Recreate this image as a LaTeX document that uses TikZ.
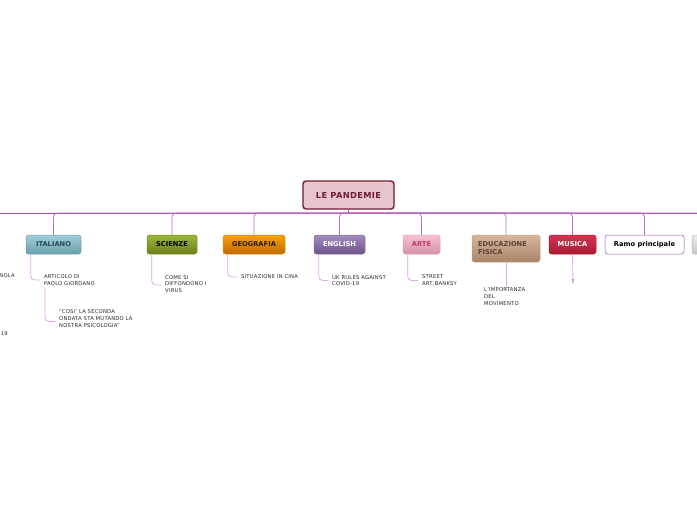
\documentclass[tikz,border=0pt]{standalone}
\usepackage{fontspec}
\setmainfont{DejaVu Sans}
\newfontfamily\widefont[LetterSpace=4]{DejaVu Sans}
\definecolor{barc}{HTML}{9C4BAE}
\definecolor{kidc}{HTML}{BE6CCB}
\definecolor{subc}{HTML}{E2A6EA}
\definecolor{rootfill}{HTML}{E6C5CB}
\definecolor{rootdraw}{HTML}{6E1E30}
\definecolor{itD}{HTML}{6F9AA6}\definecolor{itT}{HTML}{9FCFDB}\definecolor{itB}{HTML}{6C9DAA}\definecolor{itX}{HTML}{2B4B58}
\definecolor{scD}{HTML}{6E8A22}\definecolor{scT}{HTML}{9AB83A}\definecolor{scB}{HTML}{6A7F1E}
\definecolor{geD}{HTML}{D08A20}\definecolor{geT}{HTML}{F7A10A}\definecolor{geB}{HTML}{C06A00}\definecolor{geX}{HTML}{2A1A00}
\definecolor{enD}{HTML}{8470A0}\definecolor{enT}{HTML}{A48CC0}\definecolor{enB}{HTML}{6C548C}
\definecolor{arD}{HTML}{D89AAE}\definecolor{arT}{HTML}{F6C2D0}\definecolor{arB}{HTML}{D692A8}\definecolor{arX}{HTML}{C23A6E}
\definecolor{edD}{HTML}{C0A088}\definecolor{edT}{HTML}{D8B69C}\definecolor{edB}{HTML}{A88468}\definecolor{edX}{HTML}{5A4232}
\definecolor{muD}{HTML}{A81830}\definecolor{muT}{HTML}{D43450}\definecolor{muB}{HTML}{A81A32}
\definecolor{raD}{HTML}{A050B0}
\definecolor{grD}{HTML}{B8B8B8}\definecolor{grT}{HTML}{EEEEEE}\definecolor{grB}{HTML}{C4C4C4}
\begin{document}
\begin{tikzpicture}[x=1pt,y=-1pt,
  topic/.style={draw, rounded corners=2.5pt, line width=0.5pt, inner sep=0pt,
    minimum height=19pt, font=\fontsize{6.7}{8}\selectfont\bfseries, align=left},
  sub/.style={anchor=west, inner sep=0pt, align=left, font=\widefont\fontsize{5.25}{6.8}\selectfont, text=black!85},
  bar/.style={draw=barc, line width=0.8pt},
  kid/.style={draw=kidc, line width=0.8pt, rounded corners=4pt},
  subl/.style={draw=subc, line width=0.8pt, rounded corners=4pt}]
\useasboundingbox (0,0) rectangle (697,520);
\clip (0,0) rectangle (697,520);

% root
\node[draw=rootdraw, line width=1.4pt, fill=rootfill, rounded corners=3pt,
  minimum width=91pt, minimum height=28pt, inner sep=0pt, text=rootdraw,
  font=\widefont\fontsize{8.3}{9}\selectfont\bfseries] (root) at (348.5,195) {LE PANDEMIE};

% bar
\coordinate (barL) at (0,213);
\coordinate (barR) at (697,213);
\draw[bar] (barL) -- (barR);
\draw[bar] (root.south) -- (root.south |- barL);

% topics
\node[topic, draw=itD, top color=itT, bottom color=itB, text=itX, minimum width=55pt] (ital) at (53.5,244.5) {ITALIANO};
\node[topic, draw=scD, top color=scT, bottom color=scB, text=black, minimum width=50pt] (sci) at (172,244.5) {SCIENZE};
\node[topic, draw=geD, top color=geT, bottom color=geB, text=geX, minimum width=62pt] (geo) at (254,244.5) {GEOGRAFIA};
\node[topic, draw=enD, top color=enT, bottom color=enB, text=white, minimum width=51pt] (eng) at (339.5,244.5) {ENGLISH};
\node[topic, draw=arD, top color=arT, bottom color=arB, text=arX, minimum width=37pt] (arte) at (421.5,244.5) {ARTE};
\node[topic, draw=edD, top color=edT, bottom color=edB, text=edX, minimum width=68pt, minimum height=27pt, text width=56pt] (edu) at (506,248.5) {EDUCAZIONE\\FISICA};
\node[topic, draw=muD, top color=muT, bottom color=muB, text=white, minimum width=47pt] (mus) at (572.5,244.5) {MUSICA};
\node[topic, draw=raD, fill=white, text=black, minimum width=79pt] (ramo) at (644.5,244.5) {Ramo principale};
\node[topic, draw=grD, top color=grT, bottom color=grB, minimum width=40pt] (extra) at (712,244.5) {};

% topic connectors
\foreach \k in {ital,sci,geo,eng,arte,edu,mus,ramo}{
  \draw[kid] (\k.north) |- (root.south |- barL);
}
\draw[kid] (extra.north) |- (root.south |- barL);

% subtopics
\node[sub] (t1) at (44,280) {ARTICOLO DI\\PAOLO GIORDANO};
\node[sub] (t2) at (59,318.5) {“COSI’ LA SECONDA\\ONDATA STA MUTANDO LA\\NOSTRA PSICOLOGIA”};
\node[sub] (t3) at (165,284) {COME SI\\DIFFONDONO I\\VIRUS};
\node[sub] (t4) at (241,277) {SITUAZIONE IN CINA};
\node[sub] (t5) at (332,280.5) {UK RULES AGAINST\\COVID-19};
\node[sub] (t6) at (422,280.5) {STREET\\ART,BANKSY};
\node[sub] (t7) at (484,296.5) {L’IMPORTANZA\\DEL\\MOVIMENTO};
\node[sub, anchor=center] (t8) at (573,282) {?};
\node[sub, anchor=east] (t9) at (15,276) {NOLA};
\node[sub, anchor=east] (t10) at (8,334) {19};

\draw[subl] ([xshift=5pt]ital.south west) |- ([xshift=-4pt]t1.west);
\draw[subl] ([xshift=1pt,yshift=-2pt]t1.south west) |- ([xshift=-4pt,yshift=-3pt]t2.west);
\draw[subl] ([xshift=5pt]sci.south west) |- ([xshift=-4pt,yshift=-1pt]t3.west);
\draw[subl] ([xshift=5pt]geo.south west) |- ([xshift=-4pt]t4.west);
\draw[subl] ([xshift=5pt]eng.south west) |- ([xshift=-4pt]t5.west);
\draw[subl] ([xshift=5pt]arte.south west) |- ([xshift=-4pt]t6.west);
\draw[subl] (edu.south) -- ([yshift=-3pt]edu.south |- t7.north);
\draw[subl] (mus.south) -- ([yshift=-4pt]t8.north);
\end{tikzpicture}
\end{document}
